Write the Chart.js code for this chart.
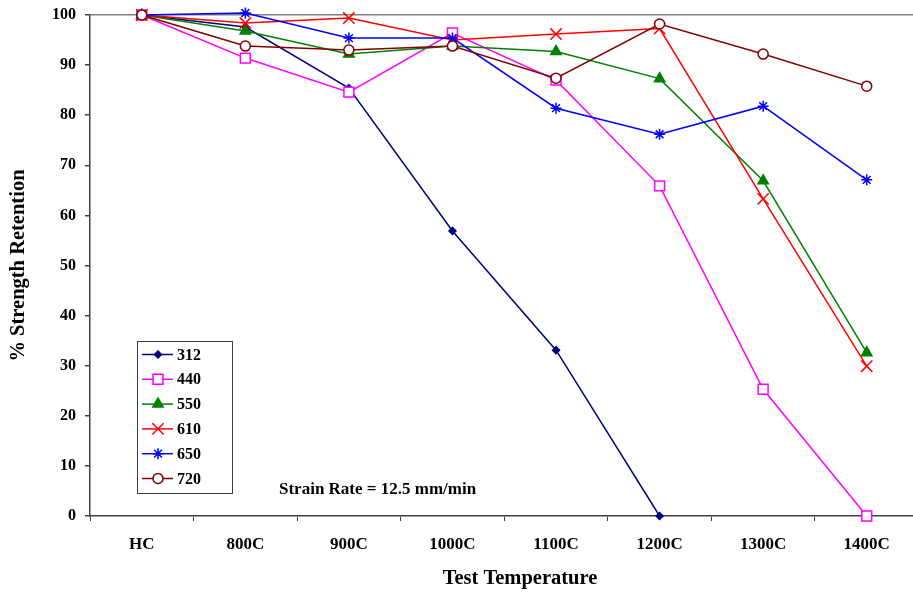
<!DOCTYPE html>
<html>
<head>
<meta charset="utf-8">
<script src="https://cdn.jsdelivr.net/npm/chart.js@4"></script>
<style>
  html, body { margin: 0; padding: 0; overflow: hidden; background: #fff; }
</style>
</head>
<body>
<canvas id="chart" width="928" height="594"></canvas>
<script>
const categories = ['HC', '800C', '900C', '1000C', '1100C', '1200C', '1300C', '1400C'];

const s312 = [100, 97.6, 85.4, 56.9, 33.1, 0];
const s440 = [100, 91.4, 84.6, 96.4, 87.0, 65.9, 25.3, 0];
const s550 = [100, 96.8, 92.2, 93.8, 92.7, 87.3, 66.9, 32.6];
const s610 = [100, 98.4, 99.4, 95.0, 96.2, 97.3, 63.3, 29.9];
const s650 = [100, 100.4, 95.4, 95.4, 81.4, 76.2, 81.8, 67.1];
const s720 = [100, 93.8, 93.0, 93.8, 87.4, 98.2, 92.2, 85.8];

const serif = '"Liberation Serif", "Times New Roman", serif';

// one entry per series: label, values, colour, marker
const series = [
    { label: '312', data: s312, color: '#000080', style: 'rectRot', radius: 3.5, fill: '#000080' },
    { label: '440', data: s440, color: '#FF00FF', style: 'rect', radius: 7, fill: '#ffffff' },
    { label: '550', data: s550, color: '#008000', style: 'triangle', radius: 6, fill: '#008000' },
    { label: '610', data: s610, color: '#FF0000', style: 'crossRot', radius: 8, fill: '#FF0000' },
    { label: '650', data: s650, color: '#0000FF', style: 'star', radius: 5.5, fill: '#0000FF' },
    { label: '720', data: s720, color: '#800000', style: 'circle', radius: 5, fill: '#ffffff' }
];

// legend box, note and x title
const extras = {
    id: 'extras',
    afterDraw(chart) {
        const ctx = chart.ctx;
        ctx.save();
        ctx.strokeStyle = '#404040';
        ctx.lineWidth = 1;
        ctx.fillStyle = '#fff';
        ctx.fillRect(137.5, 341.5, 95, 152);
        ctx.strokeRect(137.5, 341.5, 95, 152);
        ctx.font = 'bold 16px ' + serif;
        ctx.textBaseline = 'middle';
        series.forEach((s, i) => {
            const y = 354.5 + i * 24.8;
            ctx.strokeStyle = s.color;
            ctx.lineWidth = 1.5;
            ctx.beginPath();
            ctx.moveTo(142, y);
            ctx.lineTo(173, y);
            ctx.stroke();
            ctx.fillStyle = s.fill;
            Chart.helpers.drawPoint(ctx, { pointStyle: s.style, radius: s.radius, borderWidth: 1.5 }, 158, y);
            ctx.fillStyle = '#000';
            ctx.fillText(s.label, 177, y + 1);
        });
        ctx.font = 'bold 17px ' + serif;
        ctx.fillStyle = '#000';
        ctx.fillText('Strain Rate = 12.5 mm/min', 279, 490);
        ctx.font = 'bold 20.5px ' + serif;
        ctx.textAlign = 'center';
        ctx.fillText('Test Temperature', 520, 579);
        ctx.restore();
    }
};

new Chart('chart', {
    type: 'line',
    data: {
        labels: categories,
        datasets: series.map((s, i) => ({
            label: s.label,
            data: s.data,
            borderColor: s.color,
            backgroundColor: s.fill,
            pointBorderColor: s.color,
            pointBackgroundColor: s.fill,
            pointStyle: s.style,
            pointRadius: s.radius,
            pointHoverRadius: s.radius,
            pointBorderWidth: 1.5,
            borderWidth: 1.5,
            tension: 0,
            clip: false,
            order: series.length - i
        }))
    },
    options: {
        responsive: false,
        animation: false,
        events: [],
        layout: { padding: { top: 15, left: 0, right: 0, bottom: 0 } },
        plugins: {
            legend: { display: false },
            tooltip: { enabled: false }
        },
        scales: {
            x: {
                offset: true,
                grid: {
                    offset: true,
                    drawOnChartArea: false,
                    tickLength: 5,
                    tickColor: '#404040'
                },
                border: { color: '#404040', width: 1.5 },
                ticks: {
                    color: '#000',
                    padding: 13,
                    maxRotation: 0,
                    font: { family: serif, size: 17, weight: 'bold' }
                },
                afterFit(scale) { scale.height = 78; }
            },
            y: {
                min: 0,
                max: 100,
                grid: {
                    color: c => (c.tick && c.tick.value === 100 ? '#808080' : 'transparent'),
                    lineWidth: 1.5,
                    tickLength: 5,
                    tickColor: '#404040'
                },
                border: { color: '#404040', width: 1.5 },
                ticks: {
                    stepSize: 10,
                    color: '#000',
                    padding: 9,
                    font: { family: serif, size: 16, weight: 'bold' }
                },
                title: {
                    display: true,
                    text: '% Strength Retention',
                    color: '#000',
                    padding: { top: 6, bottom: 0 },
                    font: { family: serif, size: 20.5, weight: 'bold' }
                },
                afterFit(scale) {
                    scale.width = 90;
                    scale.paddingTop = 0;
                    scale.paddingBottom = 0;
                }
            }
        }
    },
    plugins: [extras]
});
</script>
</body>
</html>
